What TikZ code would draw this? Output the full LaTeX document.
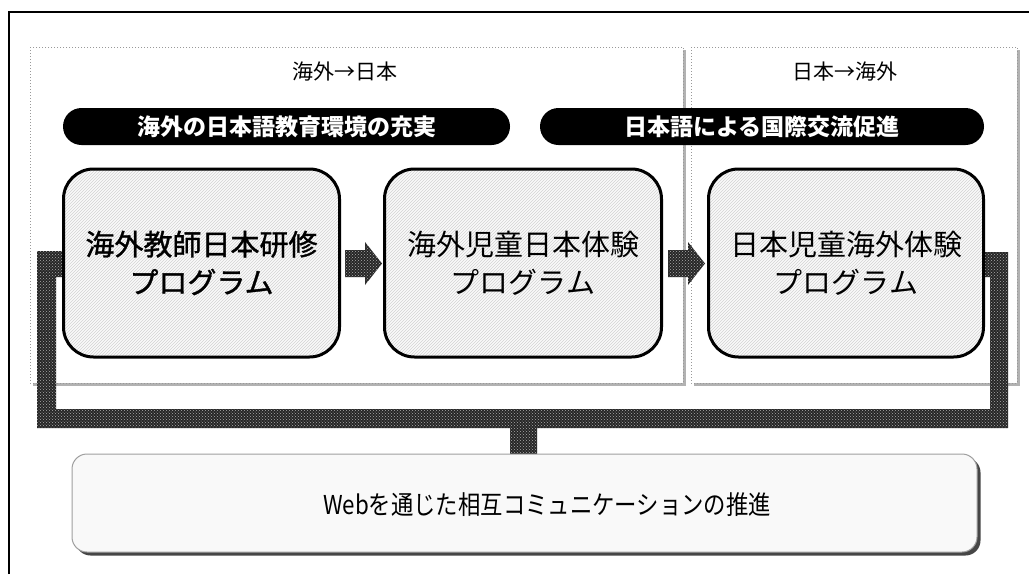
\documentclass[tikz,border=0pt]{standalone}
\usepackage{fontspec}
\setmainfont{Noto Sans CJK JP}
\newfontfamily\semibold[FakeBold=1.2]{Noto Sans CJK JP}
\usetikzlibrary{patterns}
\begin{document}
\begin{tikzpicture}[x=1pt,y=-1pt,
  panel/.style={draw=gray!80, dotted, line width=1pt, fill=white},
  panelshadow/.style={fill=gray!60},
  banner/.style={fill=black, text=white, rounded corners=18.5pt, minimum height=37pt, inner sep=0pt, font=\fontsize{23}{26}\selectfont\bfseries},
  progbox/.style={draw=black, line width=3pt, rounded corners=30pt, minimum height=188pt, inner sep=0pt, align=center,
    preaction={fill=gray!4}, pattern=north east lines, pattern color=gray!35,
    font=\fontsize{29}{38}\selectfont},
  halftone/.style={preaction={fill=black!85}, pattern=crosshatch dots, pattern color=gray!65},
  toplabel/.style={font=\fontsize{21}{24}\selectfont},
  webbox/.style={draw=gray!75, line width=1pt, rounded corners=15pt, fill=gray!5, minimum width=905pt, minimum height=98pt, inner sep=0pt},
]
\useasboundingbox (0,0) rectangle (1029,574);
\fill[white] (0,0) rectangle (1029,574);
% outer frame
\draw[line width=2.5pt] (9,574) -- (9,12) -- (1029,12);
% panels
\fill[panelshadow] (33,50) rectangle (686,386);
\fill[panelshadow] (694,50) rectangle (1020,386);
\path[panel] (30,47) rectangle (683,383);
\path[panel] (691,47) rectangle (1017,383);
\node[toplabel] (lab1) at (345,72) {海外→日本};
\node[toplabel] (lab2) at (845,72) {日本→海外};
% banners
\node[banner, minimum width=447pt] (ban1) at (286.5,126.5) {海外の日本語教育環境の充実};
\node[banner, minimum width=444pt] (ban2) at (762,126.5) {日本語による国際交流促進};
% connector
\coordinate (webtop) at (523.5,454);
\path[halftone] (37,251) -- (63,251) -- (63,277) -- (56,277) -- (56,409) -- (990,409) -- (990,277) -- (985,277) -- (985,252) -- (1008,252) -- (1008,428) -- (537,428) -- (537,454) -- (510,454) -- (510,428) -- (37,428) -- cycle;
% program boxes
\node[progbox, minimum width=276pt] (p1) at (201.5,263) {\semibold 海外教師日本研修\\\semibold プログラム};
\node[progbox, minimum width=277pt] (p2) at (523,263) {海外児童日本体験\\プログラム};
\node[progbox, minimum width=275pt] (p3) at (846,263) {日本児童海外体験\\プログラム};
% block arrows
\path[halftone] (345,250) -- (365,250) -- (365,242) -- (382,263.5) -- (365,285) -- (365,277) -- (345,277) -- cycle;
\path[halftone] (668,250) -- (688,250) -- (688,242) -- (705,263.5) -- (688,285) -- (688,277) -- (668,277) -- cycle;
% web box
\fill[gray!55!black] (75.5,457.5) [rounded corners=15pt] rectangle (980.5,555.5);
\node[webbox] (web) at (524.5,503) {};
\node[font=\fontsize{26}{29}\selectfont, xscale=0.86] (webtxt) at (547,505) {Webを通じた相互コミュニケーションの推進};
\end{tikzpicture}
\end{document}
